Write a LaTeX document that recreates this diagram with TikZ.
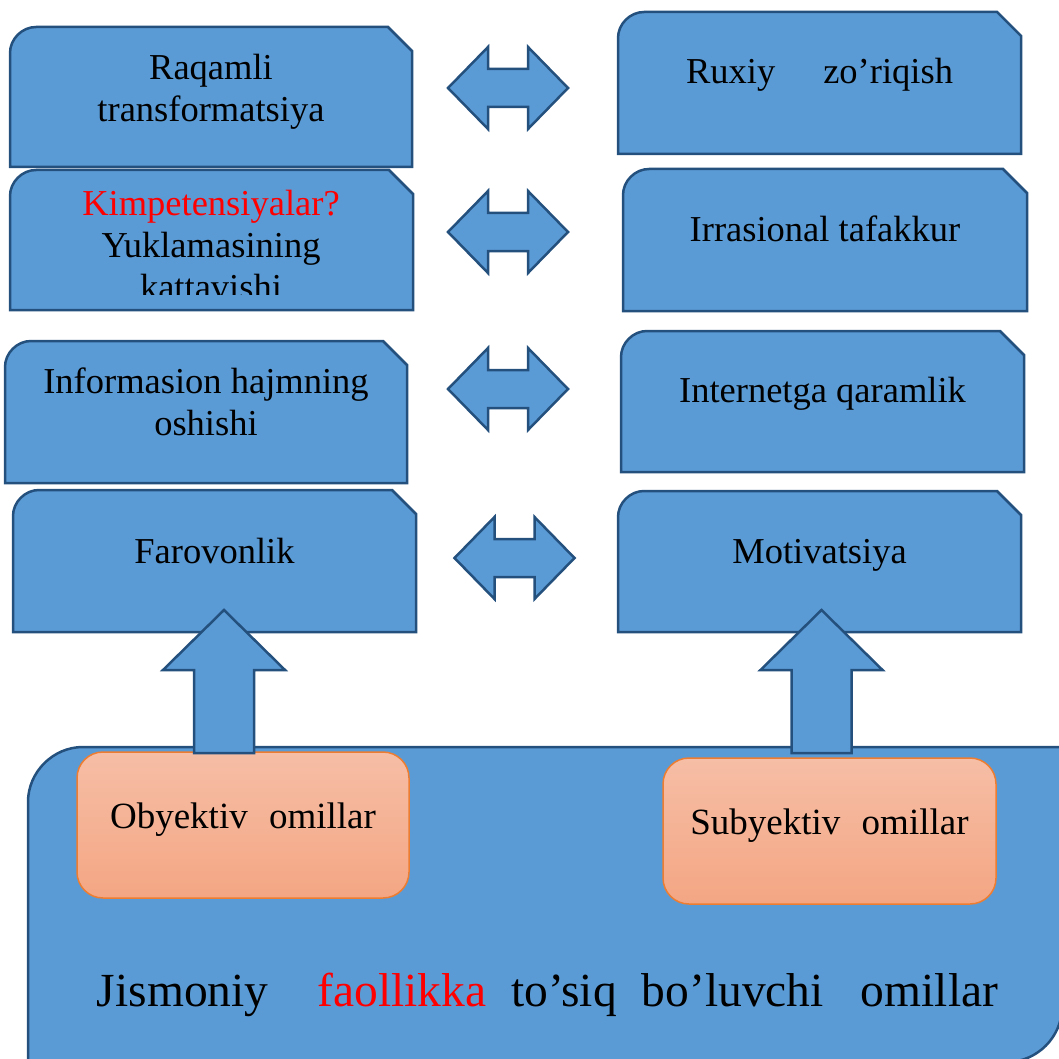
\documentclass[tikz,border=0pt]{standalone}
\usepackage{fontspec}
\setmainfont{Liberation Serif}
\usepackage{xcolor}
\usepackage{tikz}
\usetikzlibrary{calc}

\definecolor{panelblue}{HTML}{5B9BD5}
\definecolor{paneledge}{HTML}{24507E}
\definecolor{factortop}{HTML}{F6BEA6}
\definecolor{factorbot}{HTML}{F4A683}
\definecolor{factoredge}{HTML}{ED7D31}

% snipped panel: left, top, right, bottom
\newcommand{\snippanel}[4]{%
  \draw[panel] (#1,#4) -- (#1,#2+26) .. controls (#1,#2+12) and (#1+12,#2) .. (#1+26,#2)
    -- (#3-24,#2) -- (#3,#2+24) -- (#3,#4) -- cycle;}

% two-headed block arrow round a centre
\newcommand{\twoway}[1]{%
  \draw[panel, shift={#1}] (-60,0) -- (-20,-41) -- (-20,-19) -- (20,-19) -- (20,-41)
    -- (60,0) -- (20,41) -- (20,19) -- (-20,19) -- (-20,41) -- cycle;}

% upward block arrow: x, tip, foot
\newcommand{\upblock}[3]{%
  \draw[panel] (#1,#2) -- (#1+61,#2+60) -- (#1+30,#2+60) -- (#1+30,#3)
    -- (#1-30,#3) -- (#1-30,#2+60) -- (#1-61,#2+60) -- cycle;}

\begin{document}
\begin{tikzpicture}[
    x=1pt, y=-1pt,
    font=\fontsize{36.5}{42}\selectfont,
    panel/.style={draw=paneledge, fill=panelblue, line width=2.5pt, line join=miter},
    lbl/.style={align=center, inner sep=0pt},
    factor/.style={rounded corners=26pt, draw=factoredge, line width=1.5pt,
        top color=factortop, bottom color=factorbot, inner sep=0pt,
        font=\fontsize{37}{44}\selectfont, text height=25pt, text depth=18pt},
]
\path[use as bounding box, clip] (0,0) rectangle (1059,1059);

% left column
\snippanel{10}{27}{412}{167}
\snippanel{10}{170}{413}{310}
\snippanel{5}{341}{407}{483}
\snippanel{13}{490}{416}{632}
% right column
\snippanel{618}{12}{1021}{154}
\snippanel{623}{169}{1027}{311}
\snippanel{621}{331}{1024}{472}
\snippanel{618}{491}{1021}{632}

\twoway{(508,88)}
\twoway{(508,232)}
\twoway{(508,389)}
\twoway{(514.5,558)}

\node[lbl] (raqamli) at (211,91.5) {Raqamli\\transformatsiya};
\begin{scope}
  \clip (10,170) rectangle (413,294);
  \node[lbl] (yuklama) at (211,245) {\textcolor{red}{Kimpetensiyalar?}\\Yuklamasining\\kattavishi};
\end{scope}
\node[lbl] (informasion) at (206,401.5) {Informasion hajmning\\oshishi};
\node[lbl, anchor=base] (farovonlik) at (214.5,563) {Farovonlik};

\node[lbl, anchor=base] (ruxiy) at (819.5,84) {Ruxiy\hspace{48pt}zo’riqish};
\node[lbl, anchor=base] (irrasional) at (825,242) {Irrasional tafakkur};
\node[lbl, anchor=base] (internet) at (822.5,402) {Internetga qaramlik};
\node[lbl, anchor=base] (motivatsiya) at (819.5,563) {Motivatsiya};

% bottom panel
\draw[panel] (28,1062) -- (28,802) .. controls (28,772) and (53,747) .. (83,747)
  -- (1062,747) -- (1062,1007) .. controls (1062,1037) and (1037,1062) .. (1007,1062) -- cycle;

\node[factor, minimum width=332pt, minimum height=146pt] (obyektiv) at (243,825) {Obyektiv\hspace{12pt} omillar};
\node[factor, minimum width=333pt, minimum height=146pt] (subyektiv) at (829.5,831) {Subyektiv\hspace{12pt} omillar};

\upblock{224}{610}{753}
\upblock{821.5}{610}{753}

\node[lbl, anchor=base, font=\fontsize{47.5}{56}\selectfont] (jismoniy) at (547.5,1006)
  {Jismoniy\hspace{49pt}\textcolor{red}{faollikka}\hspace{25pt}to’siq\hspace{25pt}bo’luvchi\hspace{37pt}omillar};
\end{tikzpicture}
\end{document}
